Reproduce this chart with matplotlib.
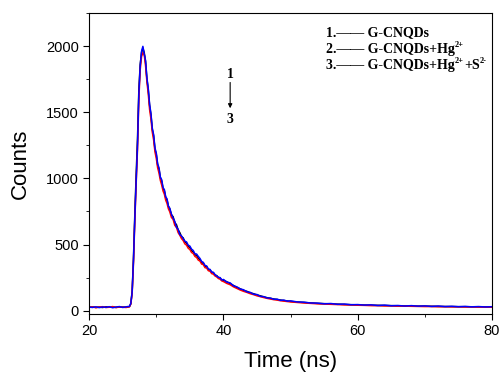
import matplotlib
matplotlib.use("Agg")
import matplotlib.pyplot as plt
import numpy as np
from matplotlib.ticker import MultipleLocator
from matplotlib.transforms import offset_copy

# time grid (ns)
time = np.round(np.concatenate([
    np.arange(20.0, 26.01, 0.5),
    np.arange(26.2, 28.01, 0.2),
    np.arange(28.2, 32.01, 0.2),
    np.arange(32.25, 40.01, 0.25),
    np.arange(40.5, 50.01, 0.5),
    np.arange(51, 80.01, 1.0),
]), 2)

# counts
black = [26, 28, 25, 27, 24, 29, 26, 27, 25, 28, 27, 26, 30,
         52, 145, 400, 730, 1030, 1300, 1670, 1860, 1950, 1985,
         1950, 1880, 1750, 1670, 1550, 1480, 1370, 1320, 1220, 1180,
         1100, 1070, 1005, 980, 925, 905, 855, 835, 790, 770,
         725, 710, 665, 650, 610, 590, 560, 550, 520, 510, 485, 478, 452, 445, 422, 418,
         395, 385, 362, 358, 335, 333, 310, 308, 290, 286, 268, 265, 250, 246, 232, 230,
         218, 204, 190, 175, 165, 152, 146, 134, 128, 118, 112, 104, 98, 93, 88, 84, 80, 76, 73, 70,
         65, 62, 58, 55, 53, 51, 49, 47, 45, 44, 42, 41, 40, 39, 38, 37, 36, 35, 34, 34,
         33, 32, 31, 31, 30, 30, 29, 29, 28, 28]
red = [25, 29, 22, 27, 30, 24, 26, 31, 23, 28, 26, 24, 30,
       50, 130, 360, 680, 960, 1220, 1600, 1820, 1920, 1950,
       1935, 1850, 1730, 1640, 1520, 1450, 1350, 1290, 1200, 1150,
       1080, 1040, 985, 950, 905, 880, 835, 810, 770, 748,
       705, 690, 645, 630, 590, 570, 545, 530, 505, 495, 472, 462, 440, 432, 410, 402,
       382, 375, 352, 348, 325, 322, 302, 298, 280, 276, 262, 255, 243, 238, 225, 220,
       206, 196, 180, 168, 156, 146, 138, 128, 121, 112, 106, 99, 93, 88, 83, 80, 75, 72, 69, 66,
       62, 58, 55, 52, 50, 48, 46, 44, 43, 41, 40, 38, 38, 36, 36, 34, 34, 33, 32, 31,
       31, 30, 30, 29, 29, 28, 28, 27, 27, 26]
blue = [27, 24, 29, 23, 28, 25, 30, 22, 27, 31, 24, 29, 33,
        55, 140, 380, 700, 980, 1250, 1640, 1850, 1960, 1998,
        1940, 1890, 1760, 1680, 1560, 1490, 1380, 1330, 1230, 1190,
        1110, 1080, 1010, 990, 930, 915, 860, 845, 790, 775,
        730, 700, 675, 630, 615, 575, 565, 545, 525, 520, 495, 488, 465, 455, 430, 428,
        410, 395, 372, 365, 342, 338, 315, 312, 292, 290, 272, 262, 252, 250, 232, 236,
        216, 210, 188, 180, 164, 158, 142, 138, 124, 122, 108, 106, 96, 95, 86, 87, 78, 80, 72, 74,
        66, 64, 58, 57, 52, 54, 48, 50, 45, 46, 42, 44, 39, 42, 37, 39, 35, 38, 34, 36,
        32, 35, 31, 33, 30, 32, 29, 31, 28, 30]

# legend-like labels: list of (text, is_superscript) pieces
labels = [[("1.—— G-CNQDs", False)],
          [("2.—— G-CNQDs+Hg", False), ("2+", True)],
          [("3.—— G-CNQDs+Hg", False), ("2+", True), ("+S", False), ("2-", True)]]

plt.rcParams['font.family'] = ['Liberation Sans', 'DejaVu Sans']

fig = plt.figure(figsize=(5.01, 3.72), dpi=100)
ax = fig.add_axes([0.178, 0.156, 0.804, 0.809])

ax.plot(time, black, color='black', lw=1.1)
ax.plot(time, red, color='red', lw=1.1)
ax.plot(time, blue, color='blue', lw=1.1)

ax.set_xlim(20, 80)
ax.set_ylim(-25, 2250)
ax.xaxis.set_major_locator(MultipleLocator(20))
ax.xaxis.set_minor_locator(MultipleLocator(10))
ax.yaxis.set_major_locator(MultipleLocator(500))
ax.yaxis.set_minor_locator(MultipleLocator(250))
ax.tick_params(which='both', direction='out', top=False, right=False, labelsize=10.5)
ax.tick_params(which='major', length=4)
ax.tick_params(which='minor', length=2.5)

ax.set_xlabel("Time (ns)", fontsize=16, labelpad=9)
ax.set_ylabel("Counts", fontsize=16, labelpad=11)

serif = ['Liberation Serif', 'DejaVu Serif']
renderer = fig.canvas.get_renderer()
for pieces, yy in zip(labels, [0.934, 0.879, 0.827]):
    trans = ax.transAxes
    for txt, sup in pieces:
        if sup:
            t = ax.text(0.588, yy, txt, transform=offset_copy(trans, fig=fig, y=3.2, units='points'),
                        family=serif, fontweight='bold', fontsize=6, va='center', ha='left')
        else:
            t = ax.text(0.588, yy, txt, transform=trans, family=serif,
                        fontweight='bold', fontsize=10, va='center', ha='left')
        w = t.get_window_extent(renderer).width
        trans = offset_copy(trans, fig=fig, x=w * 72 / fig.dpi, units='points')

ax.text(41, 1782, "1", family=serif, fontweight='bold', fontsize=10, ha='center', va='center')
ax.text(41, 1444, "3", family=serif, fontweight='bold', fontsize=10, ha='center', va='center')
ax.annotate("", xy=(41, 1530), xytext=(41, 1725),
            arrowprops=dict(arrowstyle='-|>', color='black', lw=0.8,
                            mutation_scale=6, shrinkA=0, shrinkB=0))

fig.savefig("out.png", dpi=100)
